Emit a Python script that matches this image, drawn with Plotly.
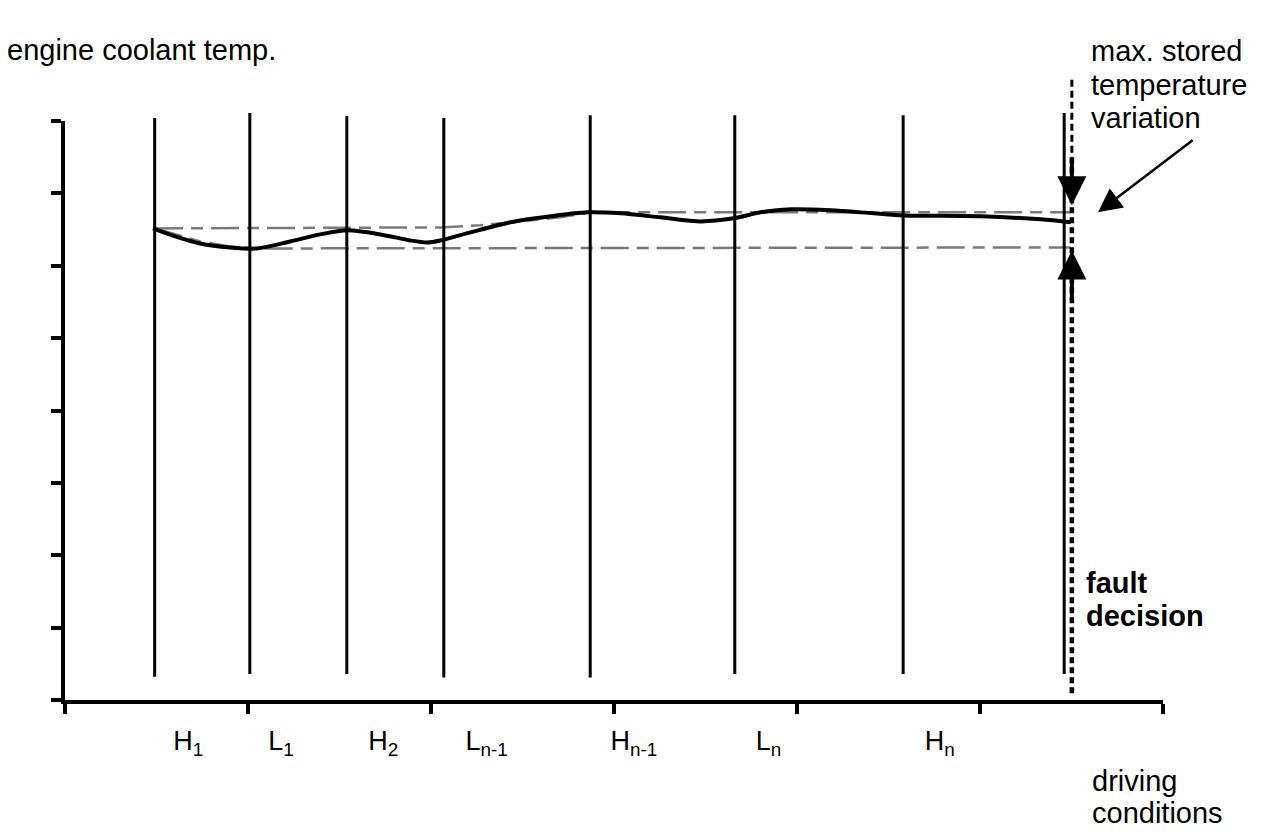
import plotly.graph_objects as go

# ---------------- data (axis units: x = driving-condition segments, y = temperature units)
x_ticks = [0, 1, 2, 3, 4, 5, 6]
y_ticks = [0, 1, 2, 3, 4, 5, 6, 7, 8]

boundary_x = [0.49, 1.01, 1.54, 2.07, 2.87, 3.66, 4.58, 5.46]
boundary_top = [8.04, 8.11, 8.07, 8.04, 8.08, 8.08, 8.08, 8.11]
boundary_bot = [0.32, 0.36, 0.36, 0.31, 0.31, 0.36, 0.36, 0.36]

temp_x = [0.481, 0.602, 0.738, 0.902, 1.050, 1.231, 1.395, 1.542, 1.723, 1.887, 1.980,
          2.051, 2.215, 2.434, 2.653, 2.855, 3.036, 3.254, 3.473, 3.654, 3.801, 3.965,
          4.184, 4.419, 4.583, 5.005, 5.333, 5.497]
temp_y = [6.516, 6.405, 6.308, 6.253, 6.239, 6.336, 6.433, 6.489, 6.433, 6.350, 6.322,
          6.350, 6.461, 6.600, 6.683, 6.738, 6.724, 6.669, 6.613, 6.655, 6.738, 6.780,
          6.766, 6.724, 6.696, 6.683, 6.641, 6.600]

max_x = [0.492, 2.051, 2.270, 2.434, 2.707, 2.871, 5.497]
max_y = [6.516, 6.530, 6.558, 6.600, 6.669, 6.738, 6.738]
min_x = [0.492, 0.738, 0.902, 1.050, 5.497]
min_y = [6.516, 6.336, 6.267, 6.239, 6.253]

fault_x = 5.502
fault_thin_y = [8.57, 7.50]
fault_thick_y = [7.50, 0.04]
arrow_down = (7.50, 6.835)   # tail, tip
arrow_up = (5.518, 6.211)    # tail, tip
pointer = (6.170, 7.750, 5.645, 6.738)  # tail x,y ; tip x,y

seg_labels = ["H<sub>1</sub>", "L<sub>1</sub>", "H<sub>2</sub>", "L<sub>n-1</sub>",
              "H<sub>n-1</sub>", "L<sub>n</sub>", "H<sub>n</sub>"]
seg_label_x = [0.591, 1.110, 1.657, 2.188, 2.981, 3.774, 4.698]
seg_label_y = -0.60

# ---------------- layout geometry (screen px; page body adds an 8px offset)
OFF = 8
W, H = 1264 - 2 * OFF, 838 - 2 * OFF
X0, X1 = 65 - OFF, 1163 - OFF
Y0, Y1 = 700 - OFF, 121 - OFF
ux = (X1 - X0) / 6
uy = (Y0 - Y1) / 8
FONT = "Liberation Sans, Arial, sans-serif"

fig = go.Figure()

# boundary lines
for bx, bt, bb in zip(boundary_x, boundary_top, boundary_bot):
    fig.add_trace(go.Scatter(x=[bx, bx], y=[bb, bt], mode="lines",
                             line=dict(color="black", width=3),
                             xaxis="x2", yaxis="y2", hoverinfo="skip", showlegend=False))

# envelope lines (main axes)
for ex, ey in ((max_x, max_y), (min_x, min_y)):
    fig.add_trace(go.Scatter(x=ex, y=ey, mode="lines",
                             line=dict(color="#7a7a7a", width=2.5, dash="28px,8px,12px,8px"),
                             xaxis="x", yaxis="y", hoverinfo="skip", showlegend=False))

# coolant temperature curve
fig.add_trace(go.Scatter(x=temp_x, y=temp_y, mode="lines",
                         line=dict(color="black", width=4, shape="spline", smoothing=0.8),
                         xaxis="x", yaxis="y", hoverinfo="skip", showlegend=False))

# fault decision dotted line
fig.add_trace(go.Scatter(x=[fault_x, fault_x], y=fault_thin_y, mode="lines",
                         line=dict(color="black", width=3, dash="7px,4px"),
                         xaxis="x2", yaxis="y2", hoverinfo="skip", showlegend=False))
fig.add_trace(go.Scatter(x=[fault_x, fault_x], y=fault_thick_y, mode="lines",
                         line=dict(color="black", width=4.5, dash="6px,4px"),
                         xaxis="x2", yaxis="y2", hoverinfo="skip", showlegend=False))

# segment labels
fig.add_trace(go.Scatter(x=seg_label_x, y=[seg_label_y] * len(seg_labels), mode="text",
                         text=seg_labels, textposition="middle right",
                         textfont=dict(family=FONT, size=27, color="black"),
                         cliponaxis=False, xaxis="x2", yaxis="y2",
                         hoverinfo="skip", showlegend=False))

annotations = []
for tail, tip in (arrow_down, arrow_up):
    annotations.append(dict(x=fault_x, y=tip, ax=fault_x, ay=tail, xref="x2", yref="y2",
                            axref="x2", ayref="y2", showarrow=True, arrowhead=2,
                            arrowwidth=4, arrowsize=1.45, arrowcolor="black",
                            standoff=0, text=""))
annotations.append(dict(x=pointer[2], y=pointer[3], ax=pointer[0], ay=pointer[1],
                        xref="x2", yref="y2", axref="x2", ayref="y2", showarrow=True,
                        arrowhead=2, arrowwidth=2.5, arrowsize=1.9, arrowcolor="black",
                        standoff=0, text=""))


def txt(s, px, py, bold=False, size=29):
    # px, py: screen position of the text's left edge / vertical middle
    return dict(text=("<b>%s</b>" % s) if bold else s,
                x=(px - OFF - 2) / W, y=1 - (py - OFF) / H,
                xref="paper", yref="paper", xanchor="left", yanchor="middle",
                showarrow=False, font=dict(family=FONT, size=size, color="black"))


annotations += [
    txt("engine coolant temp.", 7, 49.5),
    txt("max. stored", 1091, 51),
    txt("temperature", 1091, 85),
    txt("variation", 1091, 118),
    txt("fault", 1086, 582.5, bold=True),
    txt("decision", 1086, 615.5, bold=True),
    txt("driving", 1092, 781),
    txt("conditions", 1092, 813),
]

axis_common = dict(showgrid=False, zeroline=False, showline=True, linecolor="black",
                   linewidth=4, ticks="outside", tickcolor="black", tickwidth=4,
                   ticklen=10, showticklabels=False, fixedrange=True)

fig.update_layout(
    width=W, height=H, margin=dict(l=0, r=0, t=0, b=0, pad=0),
    paper_bgcolor="white", plot_bgcolor="rgba(0,0,0,0)", showlegend=False,
    xaxis=dict(domain=[X0 / W, X1 / W], range=[0, 6], tickvals=x_ticks,
               anchor="y", **axis_common),
    yaxis=dict(domain=[(H - Y0) / H, (H - Y1) / H], range=[0, 8], tickvals=y_ticks,
               anchor="x", **axis_common),
    xaxis2=dict(domain=[0, 1], range=[-X0 / ux, (W - X0) / ux], visible=False,
                anchor="y2", fixedrange=True),
    yaxis2=dict(domain=[0, 1], range=[(Y0 - H) / uy, Y0 / uy], visible=False,
                anchor="x2", fixedrange=True),
    annotations=annotations,
)

fig.write_html("out.html")
